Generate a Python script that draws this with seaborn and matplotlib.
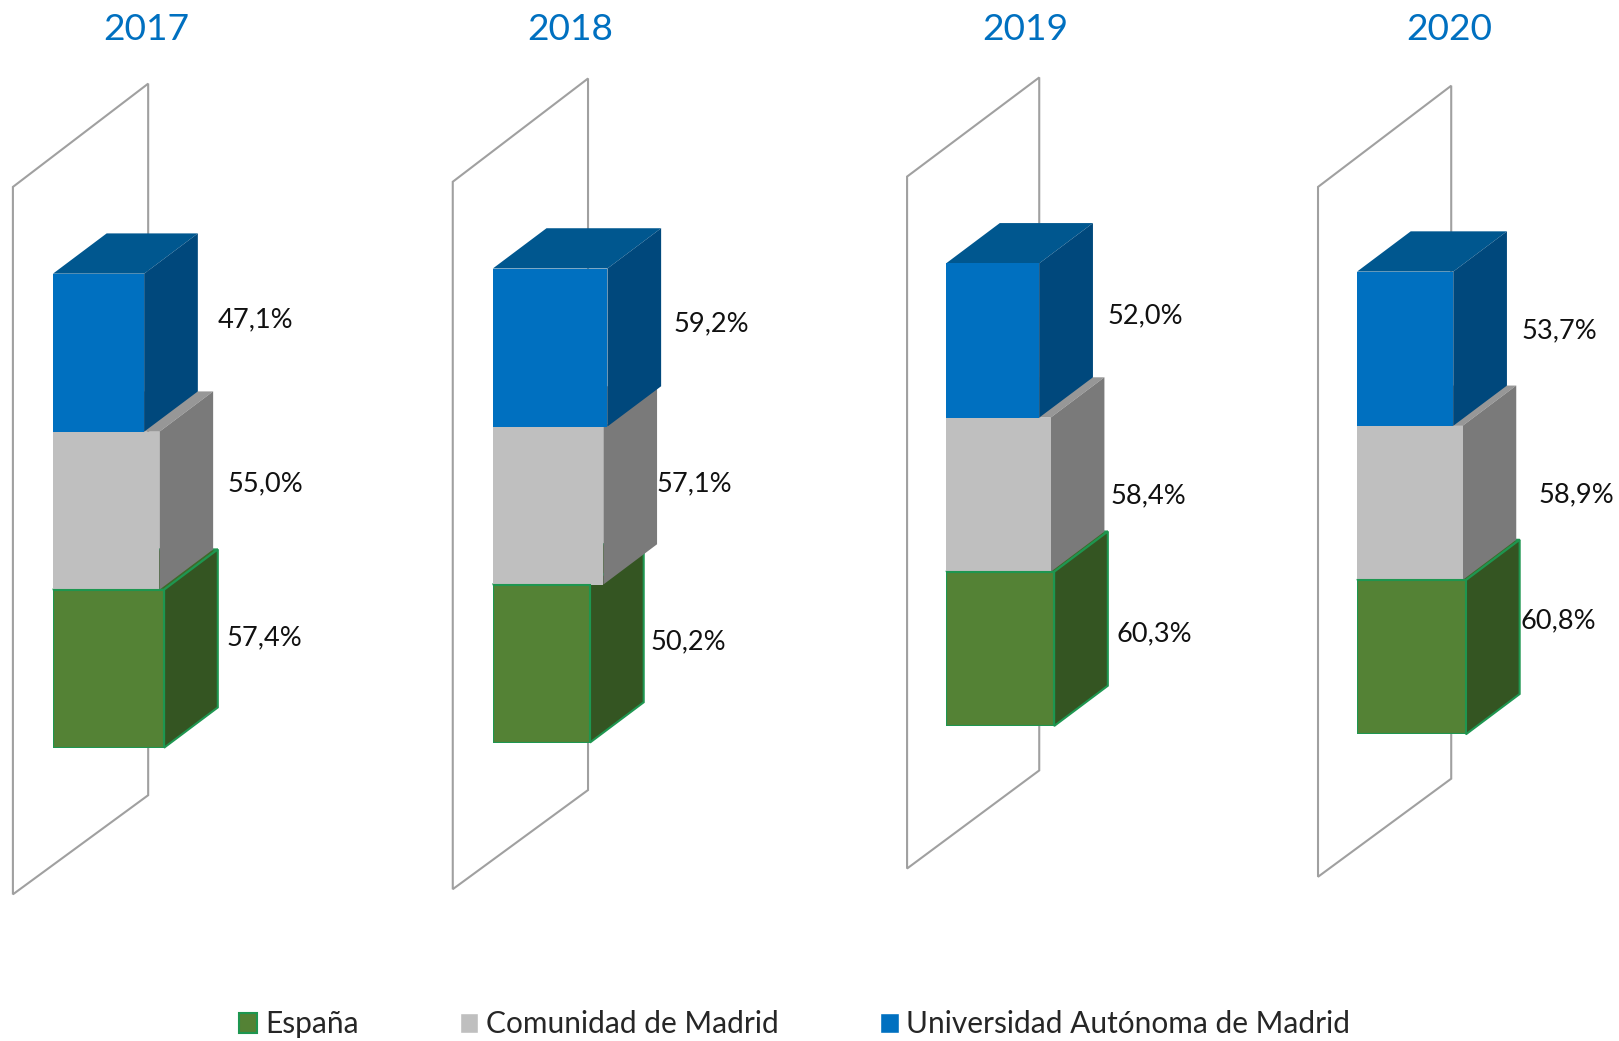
import matplotlib
matplotlib.use('Agg')
import matplotlib.pyplot as plt
from matplotlib.patches import Patch, Polygon
import pandas as pd
import seaborn as sns

years = ['2017', '2018', '2019', '2020']
categories = ['Universidad Autónoma de Madrid', 'Comunidad de Madrid', 'España']
uam = [47.1, 59.2, 52.0, 53.7]
madrid = [55.0, 57.1, 58.4, 58.9]
espana = [57.4, 50.2, 60.3, 60.8]

front = {'España': '#548235', 'Comunidad de Madrid': '#BFBFBF', 'Universidad Autónoma de Madrid': '#0070C0'}
side = {'España': '#345522', 'Comunidad de Madrid': '#7A7A7A', 'Universidad Autónoma de Madrid': '#00487C'}
top = {'España': '#3F6A2A', 'Comunidad de Madrid': '#979797', 'Universidad Autónoma de Madrid': '#00578F'}
edge = '#1E9650'
wall_color = '#A0A0A0'

W, H = 1568, 1008  # layout below is in px of this size

# bar origin, top, bottom, px per %, in px
panels = [(51.3, 265, 724, 1.875), (477.3, 260, 719, 1.875), (916.3, 255, 703, 1.735), (1314.3, 263, 711, 1.735)]
# back corner of the wall, front corner
walls = [((143.5, 81), (143.5, 770), (12.5, 866), (12.5, 181)),
         ((569.5, 76), (569.5, 765), (438.5, 861), (438.5, 176)),
         ((1006.5, 75), (1006.5, 746), (878.5, 841), (878.5, 171)),
         ((1405.5, 83), (1405.5, 754), (1276.5, 849), (1276.5, 181))]
title_x = [142, 552, 993, 1404]
label_pos = [[(247, 310), (257, 468), (256, 618)],
             [(689, 314), (672, 468), (667, 621)],
             [(1109, 306), (1112, 480), (1118, 614)],
             [(1510, 320), (1527, 479), (1509, 601)]]
depth_x, depth_y = 52, 39

sns.set_theme(style='white')
plt.rcParams['font.family'] = ['Lato', 'DejaVu Sans']

fig = plt.figure(figsize=(16.19, 10.41), dpi=100)

for i, year in enumerate(years):
    x0, y0, y1, scale = panels[i]
    values = [uam[i], madrid[i], espana[i]]
    df = pd.DataFrame({'cat': categories, 'value': values})

    xmax = 120
    ax = fig.add_axes([x0 / W, 1 - y1 / H, xmax * scale / W, (y1 - y0) / H])
    ax.patch.set_alpha(0)
    sns.barplot(data=df, x='value', y='cat', hue='cat', order=categories, hue_order=categories,
                palette=front, saturation=1, width=1, orient='h', legend=False, ax=ax, zorder=5)
    ax.set_xlim(0, xmax)
    ax.set_ylim(2.5, -0.5)
    ax.axis('off')

    dx = depth_x / scale
    dy = depth_y / ((y1 - y0) / 3)

    # wall behind the bars, from px to data
    to_data = lambda p: ((p[0] - x0) / scale, (p[1] - y0) / ((y1 - y0) / 3) - 0.5)
    ax.add_patch(Polygon([to_data(p) for p in walls[i]], closed=True, fill=False, edgecolor=wall_color,
                         linewidth=1.5, clip_on=False, zorder=1))

    bars = sorted([p for p in ax.patches if isinstance(p, matplotlib.patches.Rectangle)], key=lambda p: -p.get_y())
    for n, bar in enumerate(bars):
        name = categories[2 - n]
        x = bar.get_width()
        up = bar.get_y()
        down = up + bar.get_height()
        lw = 1.5 if name == 'España' else 0
        ec = edge if name == 'España' else 'none'
        ax.add_patch(Polygon([(0, up), (x, up), (x + dx, up - dy), (dx, up - dy)], closed=True,
                             facecolor=top[name], edgecolor=ec, linewidth=lw, clip_on=False, zorder=2 + n))
        ax.add_patch(Polygon([(x, up), (x + dx, up - dy), (x + dx, down - dy), (x, down)], closed=True,
                             facecolor=side[name], edgecolor=ec, linewidth=lw, clip_on=False, zorder=2 + n))
        bar.set_edgecolor(ec)
        bar.set_linewidth(lw)

    fig.text(title_x[i] / W, 1 - 29 / H, year, color='#0070C0', fontsize=26.7, ha='center', va='center')
    for v, pos in zip(values, label_pos[i]):
        fig.text(pos[0] / W, 1 - pos[1] / H, f'{v:.1f}%'.replace('.', ','), color='#111111', fontsize=19.6,
                 ha='center', va='center')

handles = [Patch(facecolor=front['España'], edgecolor=edge, linewidth=1.5, label='España'),
           Patch(facecolor=front['Comunidad de Madrid'], label='Comunidad de Madrid'),
           Patch(facecolor=front['Universidad Autónoma de Madrid'], label='Universidad Autónoma de Madrid')]
fig.legend(handles=handles, ncol=3, loc='center', bbox_to_anchor=(769.5 / W, 1 - 992 / H), frameon=False,
           fontsize=21.5, columnspacing=3.4, handlelength=0.62, handleheight=0.7, handletextpad=0.25, borderpad=0)

fig.savefig('out.png', dpi=100)
